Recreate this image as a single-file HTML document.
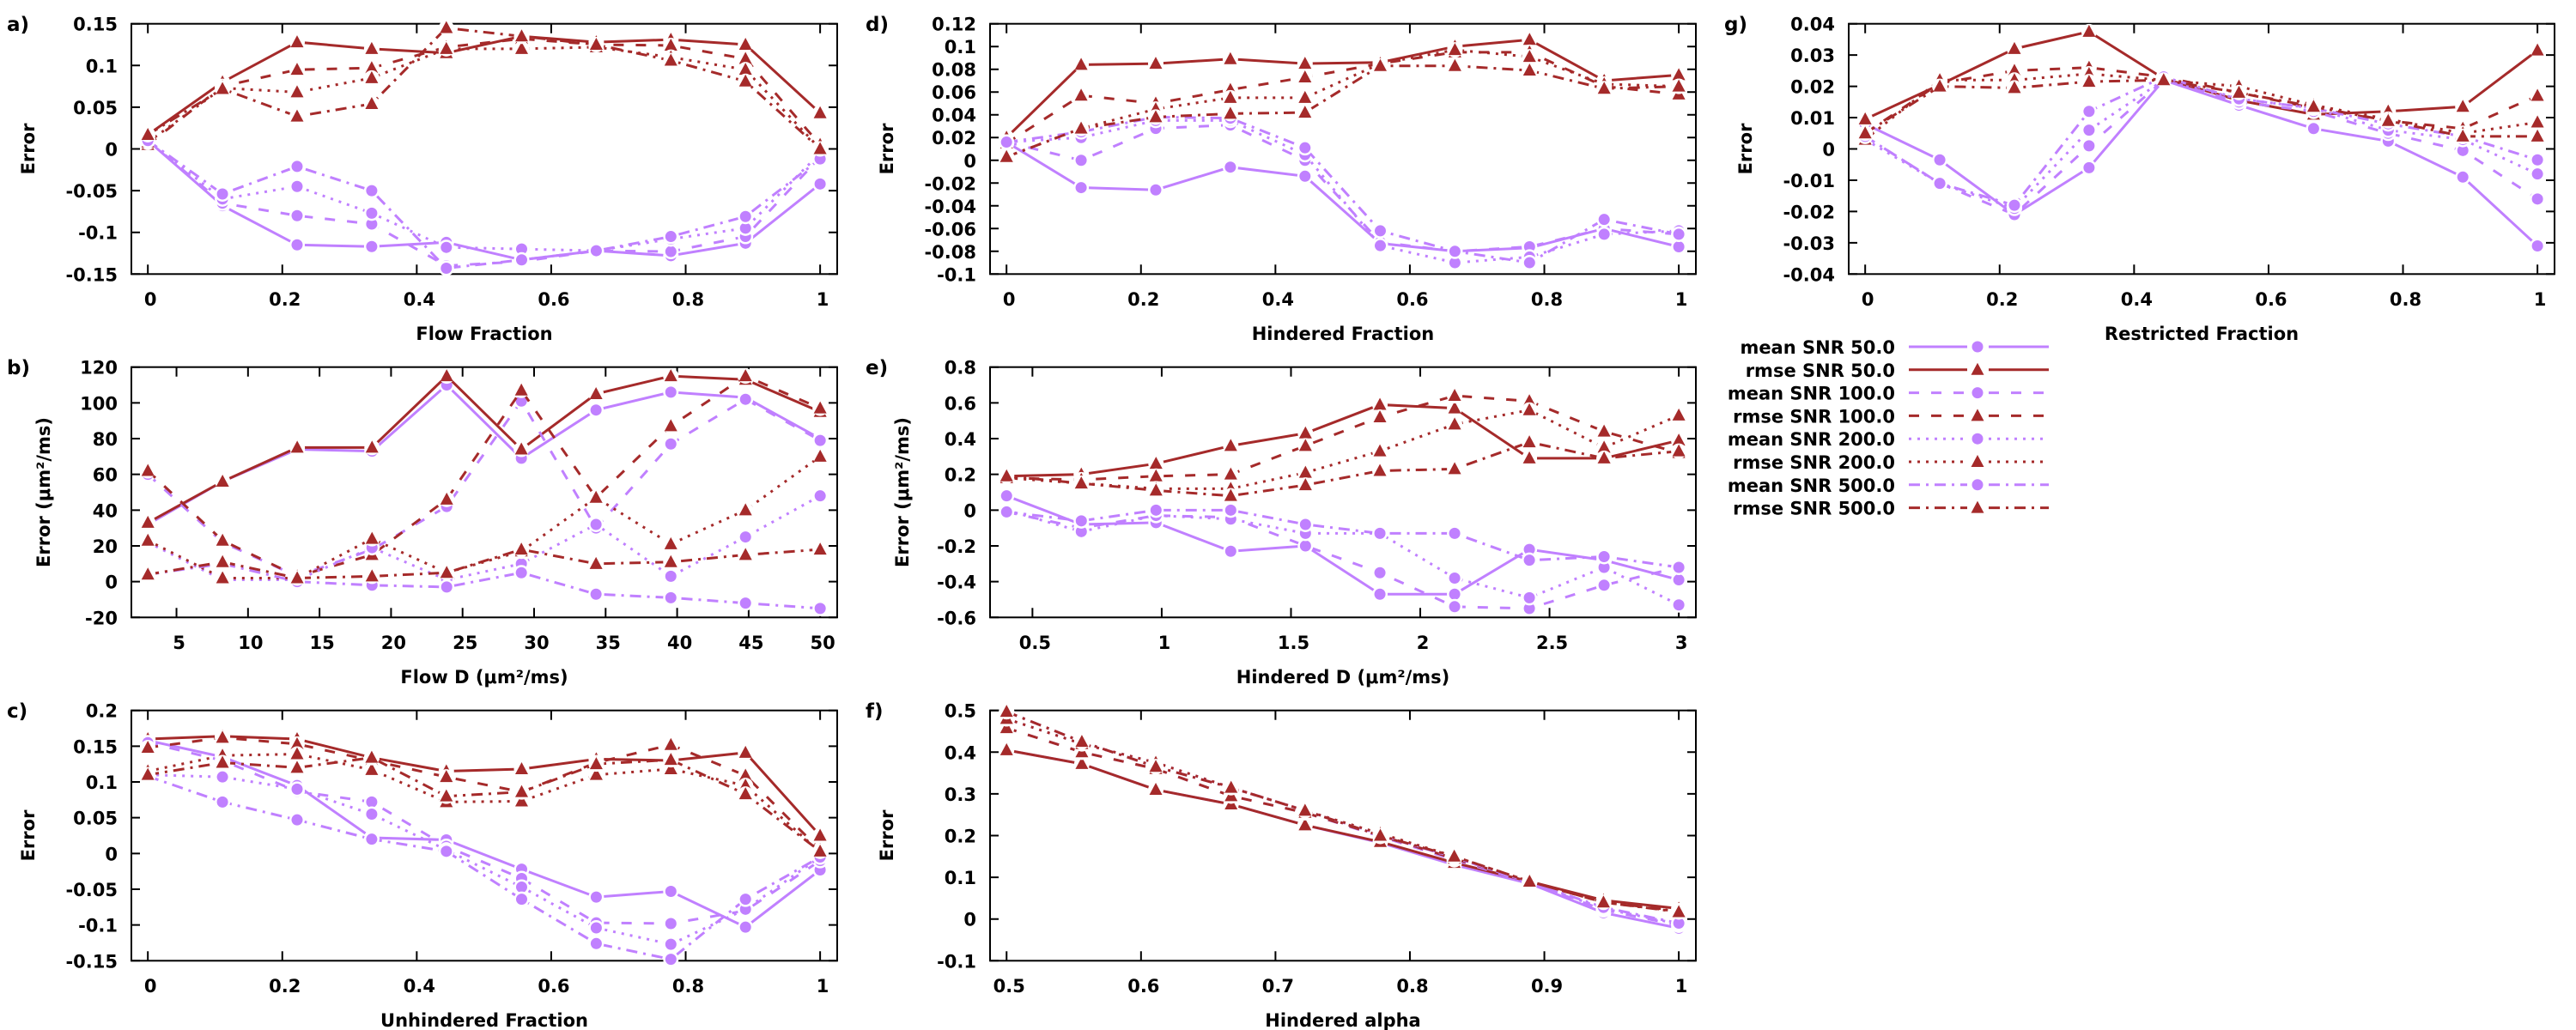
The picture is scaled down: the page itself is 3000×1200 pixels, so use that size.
<!DOCTYPE html>
<html><head><meta charset="utf-8">
<style>
html,body{margin:0;padding:0;background:#fff;}
svg{display:block;font-family:"DejaVu Sans","Liberation Sans",sans-serif;font-weight:bold;}
</style></head>
<body>
<svg id="chart" width="3000" height="1200" viewBox="0 0 3000 1200" xmlns="http://www.w3.org/2000/svg"></svg>
<script>
// ---------- categories (x positions) ----------
const fracX  = [0,0.111,0.222,0.333,0.444,0.556,0.667,0.778,0.889,1];
const flowDX = [3,8.22,13.44,18.67,23.89,29.11,34.33,39.56,44.78,50];
const hindDX = [0.4,0.689,0.978,1.267,1.556,1.844,2.133,2.422,2.711,3];
const alphaX = [0.5,0.556,0.611,0.667,0.722,0.778,0.833,0.889,0.944,1];

// ---------- panel a: Flow Fraction ----------
const aMean50  = [0.01,-0.068,-0.115,-0.117,-0.112,-0.133,-0.122,-0.128,-0.113,-0.042];
const aRmse50  = [0.017,0.08,0.128,0.12,0.115,0.135,0.128,0.131,0.125,0.043];
const aMean100 = [0.01,-0.065,-0.08,-0.09,-0.14,-0.135,-0.122,-0.123,-0.105,-0.01];
const aRmse100 = [0.005,0.075,0.095,0.097,0.122,0.132,0.125,0.124,0.108,0.005];
const aMean200 = [0.01,-0.06,-0.045,-0.077,-0.118,-0.12,-0.122,-0.108,-0.095,-0.005];
const aRmse200 = [0.008,0.073,0.068,0.085,0.12,0.12,0.122,0.11,0.095,0.0];
const aMean500 = [0.01,-0.054,-0.021,-0.05,-0.143,-0.133,-0.122,-0.105,-0.081,-0.012];
const aRmse500 = [0.017,0.072,0.039,0.054,0.145,0.135,0.125,0.106,0.081,0.0];
const aYTicks  = [-0.15,-0.1,-0.05,0,0.05,0.1,0.15];
const aYLabels = ["-0.15","-0.1","-0.05","0","0.05","0.1","0.15"];

// ---------- panel b: Flow D ----------
const bMean50  = [32,56,74,73,110,69,96,106,103,80];
const bRmse50  = [33,56,75,75,115,74,105,115,113,95];
const bMean100 = [60,22,3,18,42,101,30,77,102,79];
const bRmse100 = [62,23,3,15,46,107,47,87,115,97];
const bMean200 = [22,1,1,19,1,10,32,3,25,48];
const bRmse200 = [23,2,2,24,5,17,47,21,40,70];
const bMean500 = [4,10,0,-2,-3,5,-7,-9,-12,-15];
const bRmse500 = [4,11,2,3,5,18,10,11,15,18];
const bYTicks  = [-20,0,20,40,60,80,100,120];
const bYLabels = ["-20","0","20","40","60","80","100","120"];
const bXTicks  = [5,10,15,20,25,30,35,40,45,50];
const bXLabels = ["5","10","15","20","25","30","35","40","45","50"];

// ---------- panel c: Unhindered Fraction ----------
const cMean50  = [0.158,0.135,0.095,0.022,0.019,-0.022,-0.061,-0.053,-0.103,-0.023];
const cRmse50  = [0.16,0.164,0.16,0.134,0.115,0.118,0.132,0.13,0.141,0.025];
const cMean100 = [0.155,0.13,0.087,0.072,0.01,-0.035,-0.097,-0.098,-0.08,-0.01];
const cRmse100 = [0.148,0.162,0.153,0.13,0.107,0.086,0.127,0.152,0.109,0.005];
const cMean200 = [0.11,0.107,0.09,0.055,0.005,-0.047,-0.104,-0.127,-0.078,-0.005];
const cRmse200 = [0.115,0.137,0.139,0.117,0.072,0.073,0.11,0.118,0.095,0.002];
const cMean500 = [0.108,0.072,0.047,0.02,0.003,-0.064,-0.126,-0.148,-0.064,-0.005];
const cRmse500 = [0.11,0.127,0.12,0.134,0.08,0.086,0.125,0.131,0.083,0.003];
const cYTicks  = [-0.15,-0.1,-0.05,0,0.05,0.1,0.15,0.2];
const cYLabels = ["-0.15","-0.1","-0.05","0","0.05","0.1","0.15","0.2"];

// ---------- panel d: Hindered Fraction ----------
const dMean50  = [0.016,-0.024,-0.026,-0.006,-0.014,-0.073,-0.08,-0.077,-0.06,-0.076];
const dRmse50  = [0.02,0.084,0.085,0.089,0.085,0.086,0.1,0.106,0.07,0.075];
const dMean100 = [0.016,0.0,0.028,0.031,0.0,-0.072,-0.08,-0.076,-0.06,-0.065];
const dRmse100 = [0.015,0.057,0.05,0.062,0.073,0.085,0.095,0.095,0.065,0.058];
const dMean200 = [0.016,0.02,0.035,0.035,0.005,-0.075,-0.09,-0.085,-0.065,-0.062];
const dRmse200 = [0.003,0.028,0.045,0.055,0.055,0.085,0.097,0.091,0.067,0.065];
const dMean500 = [0.016,0.025,0.038,0.037,0.011,-0.062,-0.08,-0.09,-0.052,-0.065];
const dRmse500 = [0.003,0.028,0.038,0.041,0.042,0.083,0.083,0.079,0.063,0.065];
const dYTicks  = [-0.1,-0.08,-0.06,-0.04,-0.02,0,0.02,0.04,0.06,0.08,0.1,0.12];
const dYLabels = ["-0.1","-0.08","-0.06","-0.04","-0.02","0","0.02","0.04","0.06","0.08","0.1","0.12"];

// ---------- panel e: Hindered D ----------
const eMean50  = [0.08,-0.08,-0.07,-0.23,-0.2,-0.47,-0.47,-0.22,-0.28,-0.39];
const eRmse50  = [0.19,0.2,0.26,0.36,0.43,0.59,0.57,0.29,0.29,0.39];
const eMean100 = [-0.01,-0.1,-0.03,-0.04,-0.2,-0.35,-0.54,-0.55,-0.42,-0.32];
const eRmse100 = [0.18,0.17,0.19,0.2,0.36,0.52,0.64,0.61,0.44,0.32];
const eMean200 = [0.0,-0.12,-0.03,-0.05,-0.13,-0.13,-0.38,-0.49,-0.32,-0.53];
const eRmse200 = [0.18,0.15,0.12,0.12,0.21,0.33,0.48,0.56,0.35,0.53];
const eMean500 = [-0.01,-0.06,0.0,0.0,-0.08,-0.13,-0.13,-0.28,-0.26,-0.32];
const eRmse500 = [0.19,0.15,0.11,0.08,0.14,0.22,0.23,0.38,0.29,0.33];
const eYTicks  = [-0.6,-0.4,-0.2,0,0.2,0.4,0.6,0.8];
const eYLabels = ["-0.6","-0.4","-0.2","0","0.2","0.4","0.6","0.8"];
const eXTicks  = [0.5,1,1.5,2,2.5,3];
const eXLabels = ["0.5","1","1.5","2","2.5","3"];

// ---------- panel f: Hindered alpha ----------
const fMean50  = [0.405,0.372,0.31,0.275,0.225,0.183,0.13,0.085,0.015,-0.022];
const fRmse50  = [0.405,0.372,0.31,0.275,0.225,0.185,0.135,0.09,0.045,0.025];
const fMean100 = [0.458,0.4,0.36,0.295,0.255,0.198,0.142,0.087,0.022,-0.015];
const fRmse100 = [0.458,0.4,0.36,0.295,0.255,0.2,0.145,0.09,0.04,0.02];
const fMean200 = [0.48,0.42,0.375,0.315,0.26,0.203,0.148,0.088,0.025,-0.012];
const fRmse200 = [0.48,0.42,0.375,0.315,0.26,0.205,0.15,0.09,0.04,0.018];
const fMean500 = [0.497,0.425,0.365,0.315,0.26,0.2,0.148,0.088,0.028,-0.01];
const fRmse500 = [0.497,0.425,0.365,0.315,0.26,0.2,0.15,0.09,0.04,0.017];
const fYTicks  = [-0.1,0,0.1,0.2,0.3,0.4,0.5];
const fYLabels = ["-0.1","0","0.1","0.2","0.3","0.4","0.5"];
const fXTicks  = [0.5,0.6,0.7,0.8,0.9,1];
const fXLabels = ["0.5","0.6","0.7","0.8","0.9","1"];

// ---------- panel g: Restricted Fraction ----------
const gMean50  = [0.008,-0.0035,-0.021,-0.006,0.022,0.014,0.0065,0.0025,-0.009,-0.031];
const gRmse50  = [0.0095,0.0205,0.032,0.0375,0.0225,0.0155,0.011,0.012,0.0135,0.0315];
const gMean100 = [0.004,-0.011,-0.021,0.001,0.022,0.015,0.012,0.005,-0.0005,-0.016];
const gRmse100 = [0.005,0.021,0.025,0.026,0.023,0.018,0.013,0.009,0.0065,0.017];
const gMean200 = [0.003,-0.011,-0.019,0.006,0.022,0.016,0.013,0.006,0.003,-0.008];
const gRmse200 = [0.003,0.022,0.022,0.024,0.022,0.02,0.014,0.0095,0.005,0.0085];
const gMean500 = [0.004,-0.011,-0.018,0.012,0.023,0.016,0.013,0.008,0.004,-0.0035];
const gRmse500 = [0.005,0.02,0.0195,0.0215,0.022,0.018,0.0135,0.009,0.004,0.004];
const gYTicks  = [-0.04,-0.03,-0.02,-0.01,0,0.01,0.02,0.03,0.04];
const gYLabels = ["-0.04","-0.03","-0.02","-0.01","0","0.01","0.02","0.03","0.04"];

const fracTicks  = [0,0.2,0.4,0.6,0.8,1];
const fracLabels = ["0","0.2","0.4","0.6","0.8","1"];
const seriesNames = ["mean SNR 50.0","rmse SNR 50.0","mean SNR 100.0","rmse SNR 100.0","mean SNR 200.0","rmse SNR 200.0","mean SNR 500.0","rmse SNR 500.0"];

const NS = "http://www.w3.org/2000/svg";
const svg = document.getElementById("chart");
const PURPLE = "#c080ff", RED = "#a52a2a";
const STYLES = [
  {c:PURPLE,d:"",m:"circle"},{c:RED,d:"",m:"tri"},
  {c:PURPLE,d:"12,14",m:"circle"},{c:RED,d:"12,14",m:"tri"},
  {c:PURPLE,d:"3,7",m:"circle"},{c:RED,d:"3,7",m:"tri"},
  {c:PURPLE,d:"13,7,3,7",m:"circle"},{c:RED,d:"13,7,3,7",m:"tri"}
];
function mk(tag, attrs, parent){
  const e = document.createElementNS(NS, tag);
  for (const k in attrs) e.setAttribute(k, attrs[k]);
  (parent||svg).appendChild(e);
  return e;
}
function marker(g, type, x, y, color){
  let e;
  if (type === "circle") {
    e = mk("circle",{cx:x,cy:y,r:6.5,fill:color},g);
  } else {
    e = mk("polygon",{points:(x)+","+(y-8)+" "+(x-7.5)+","+(y+6)+" "+(x+7.5)+","+(y+6),fill:color},g);
  }
  return e;
}

function panel(p){
  const L = p.ox+153, R = p.ox+975, T = p.oy+27.7, B = p.oy+319.3;
  const sx = v => L + (v - p.xmin)/(p.xmax - p.xmin)*(R-L);
  const sy = v => B - (v - p.ymin)/(p.ymax - p.ymin)*(B-T);
  const g = mk("g",{});
  
  

  // ticks
  p.yTicks.forEach((v,i)=>{
    const y = sy(v);
    const t = mk("path",{d:"M"+L+","+y+"h10M"+R+","+y+"h-10",stroke:"#000","stroke-width":2,fill:"none"},g);
    
    
    const lb = mk("text",{x:p.ox+137,y:y+8,"text-anchor":"end","font-size":21},g);
    lb.textContent = p.yLabels[i];
    
    
  });
  p.xTicks.forEach((v,i)=>{
    const x = sx(v);
    const t = mk("path",{d:"M"+x+","+B+"v-11M"+x+","+T+"v11",stroke:"#000","stroke-width":2,fill:"none"},g);
    
    
    const lb = mk("text",{x:x+3,y:p.oy+356,"text-anchor":"middle","font-size":21},g);
    lb.textContent = p.xLabels[i];
    
    
  });
  // frame
  const fr = mk("rect",{x:L,y:T,width:R-L,height:B-T,fill:"none",stroke:"#000","stroke-width":2},g);
  
  

  // series
  p.series.forEach((vals,si)=>{
    const st = STYLES[si];
    const sg = mk("g",{},g);
    
    
    const d = vals.map((v,i)=>(i?"L":"M")+sx(p.xs[i])+","+sy(v)).join("");
    const ln = mk("path",{d:d,fill:"none",stroke:st.c,"stroke-width":3,"stroke-dasharray":st.d||"none"},sg);
    
    
    vals.forEach((v,i)=>{
      const bg = mk("circle",{cx:sx(p.xs[i]),cy:sy(v),r:9,fill:"#fff"},sg);
      
      
      const m = marker(sg, st.m, sx(p.xs[i]), sy(v), st.c);
      
      
    });
  });

  // titles
  const xt = mk("text",{x:(L+R)/2,y:p.oy+396,"text-anchor":"middle","font-size":21},g);
  xt.textContent = p.xTitle;
  
  
  const ycx = p.ox + p.yTitleX, ycy = (T+B)/2;
  const yt = mk("text",{x:ycx,y:ycy+8,"text-anchor":"middle","font-size":21,transform:"rotate(-90 "+ycx+" "+ycy+")"},g);
  yt.textContent = p.yTitle;
  
  
  const pl = mk("text",{x:p.ox+8,y:p.oy+36,"font-size":23},g);
  pl.textContent = p.letter + ")";
  
  
}

panel({letter:"a",ox:0,oy:0,xs:fracX,xmin:-0.0245,xmax:1.0254,ymin:-0.15,ymax:0.15,
  yTicks:aYTicks,yLabels:aYLabels,xTicks:fracTicks,xLabels:fracLabels,xTitle:"Flow Fraction",yTitle:"Error",yTitleX:32,
  series:[aMean50,aRmse50,aMean100,aRmse100,aMean200,aRmse200,aMean500,aRmse500]});
panel({letter:"b",ox:0,oy:400,xs:flowDX,xmin:1.846,xmax:51.19,ymin:-20,ymax:120,
  yTicks:bYTicks,yLabels:bYLabels,xTicks:bXTicks,xLabels:bXLabels,xTitle:"Flow D  (\u03bcm\u00b2/ms)",yTitle:"Error (\u03bcm\u00b2/ms)",yTitleX:50,
  series:[bMean50,bRmse50,bMean100,bRmse100,bMean200,bRmse200,bMean500,bRmse500]});
panel({letter:"c",ox:0,oy:800,xs:fracX,xmin:-0.0245,xmax:1.0254,ymin:-0.15,ymax:0.2,
  yTicks:cYTicks,yLabels:cYLabels,xTicks:fracTicks,xLabels:fracLabels,xTitle:"Unhindered Fraction",yTitle:"Error",yTitleX:32,
  series:[cMean50,cRmse50,cMean100,cRmse100,cMean200,cRmse200,cMean500,cRmse500]});
panel({letter:"d",ox:1000,oy:0,xs:fracX,xmin:-0.0245,xmax:1.0254,ymin:-0.1,ymax:0.12,
  yTicks:dYTicks,yLabels:dYLabels,xTicks:fracTicks,xLabels:fracLabels,xTitle:"Hindered Fraction",yTitle:"Error",yTitleX:32,
  series:[dMean50,dRmse50,dMean100,dRmse100,dMean200,dRmse200,dMean500,dRmse500]});
panel({letter:"e",ox:1000,oy:400,xs:hindDX,xmin:0.336,xmax:3.066,ymin:-0.6,ymax:0.8,
  yTicks:eYTicks,yLabels:eYLabels,xTicks:eXTicks,xLabels:eXLabels,xTitle:"Hindered D  (\u03bcm\u00b2/ms)",yTitle:"Error (\u03bcm\u00b2/ms)",yTitleX:50,
  series:[eMean50,eRmse50,eMean100,eRmse100,eMean200,eRmse200,eMean500,eRmse500]});
panel({letter:"f",ox:1000,oy:800,xs:alphaX,xmin:0.4877,xmax:1.0127,ymin:-0.1,ymax:0.5,
  yTicks:fYTicks,yLabels:fYLabels,xTicks:fXTicks,xLabels:fXLabels,xTitle:"Hindered alpha",yTitle:"Error",yTitleX:32,
  series:[fMean50,fRmse50,fMean100,fRmse100,fMean200,fRmse200,fMean500,fRmse500]});
panel({letter:"g",ox:2000,oy:0,xs:fracX,xmin:-0.0245,xmax:1.0254,ymin:-0.04,ymax:0.04,
  yTicks:gYTicks,yLabels:gYLabels,xTicks:fracTicks,xLabels:fracLabels,xTitle:"Restricted Fraction",yTitle:"Error",yTitleX:32,
  series:[gMean50,gRmse50,gMean100,gRmse100,gMean200,gRmse200,gMean500,gRmse500]});

// legend
const lg = mk("g",{});


seriesNames.forEach((nm,i)=>{
  const y = 404 + i*26.8;
  const st = STYLES[i];
  const eg = mk("g",{},lg);
  
  
  const t = mk("text",{x:2207,y:y+8,"text-anchor":"end","font-size":21},eg);
  t.textContent = nm;
  
  
  const l = mk("path",{d:"M2223,"+y+"H2291M2316,"+y+"H2386",stroke:st.c,"stroke-width":3,fill:"none","stroke-dasharray":st.d||"none"},eg);
  
  
  const m = marker(eg, st.m, 2303, y, st.c);
  
  
});
</script>
</body></html>
